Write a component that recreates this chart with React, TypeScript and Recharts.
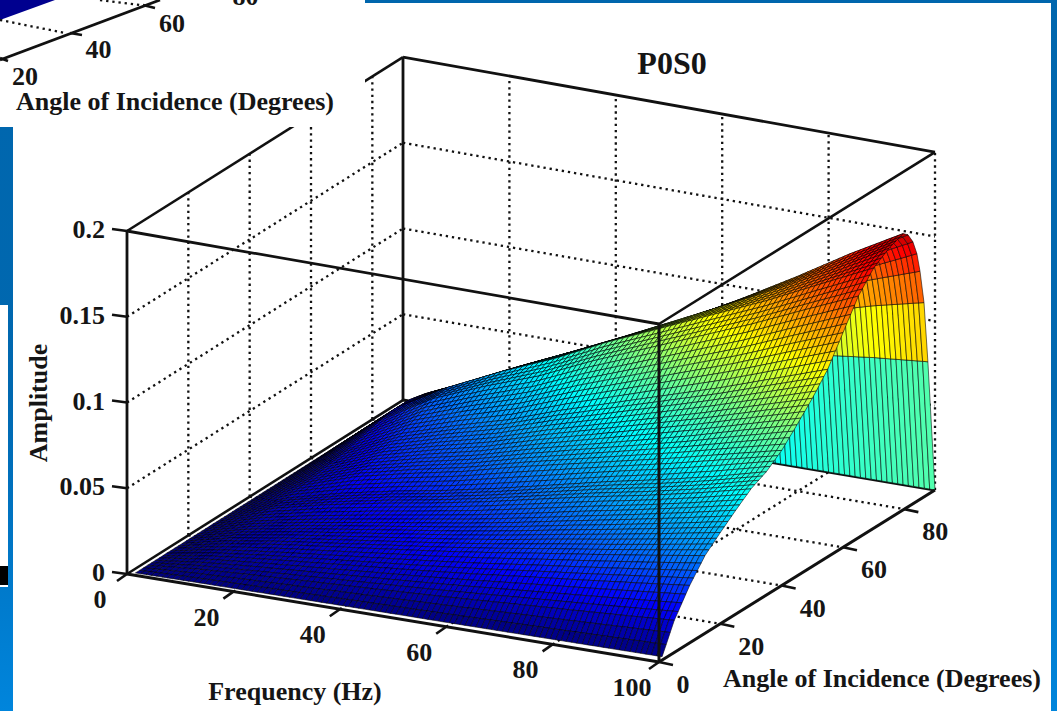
import React from "react";
import { ScatterChart, Scatter, XAxis, YAxis } from "recharts";

const W = 1057;
const H = 711;
const SERIF = "'Liberation Serif', serif";

// ---- data ----
const frequencies = [1, 10, 20, 30, 40, 50, 60, 70, 80, 90, 100];
const angles = [1, 5, 10, 15, 20, 25, 30, 35, 40, 45, 50, 55, 60, 65, 70, 75, 79.6, 81.2, 82.8, 84.1, 85.1, 86.4, 87.7, 90];
const amplitude: number[][] = [
  [0, 0.0003, 0.0005, 0.0007, 0.0009, 0.0011, 0.0012, 0.0014, 0.0016, 0.0018, 0.002],
  [0, 0.0025, 0.0044, 0.006, 0.0076, 0.0092, 0.011, 0.013, 0.0149, 0.0169, 0.019],
  [0, 0.0044, 0.0078, 0.0107, 0.0136, 0.0165, 0.0197, 0.0233, 0.0267, 0.0303, 0.034],
  [0, 0.006, 0.0106, 0.0145, 0.0184, 0.0223, 0.0267, 0.0315, 0.0361, 0.0409, 0.046],
  [0, 0.007, 0.0124, 0.017, 0.0216, 0.0262, 0.0313, 0.037, 0.0424, 0.0481, 0.054],
  [0, 0.008, 0.0141, 0.0194, 0.0246, 0.0298, 0.0357, 0.0421, 0.0483, 0.0547, 0.0615],
  [0, 0.0095, 0.0169, 0.023, 0.0284, 0.0344, 0.0412, 0.0479, 0.054, 0.0608, 0.0685],
  [0, 0.0101, 0.018, 0.0245, 0.0302, 0.0367, 0.0439, 0.0511, 0.0576, 0.0648, 0.073],
  [0, 0.0119, 0.0221, 0.0292, 0.0356, 0.0435, 0.0506, 0.0577, 0.0648, 0.0725, 0.08],
  [0, 0.0132, 0.0246, 0.0326, 0.0396, 0.0484, 0.0563, 0.0642, 0.0722, 0.081, 0.0895],
  [0, 0.0147, 0.0274, 0.0363, 0.0441, 0.0539, 0.0627, 0.0715, 0.0804, 0.09, 0.0995],
  [0, 0.0164, 0.0305, 0.0403, 0.0491, 0.06, 0.0698, 0.0796, 0.0894, 0.1002, 0.111],
  [0, 0.0188, 0.035, 0.0463, 0.0563, 0.0688, 0.08, 0.0913, 0.1025, 0.115, 0.127],
  [0, 0.0212, 0.0395, 0.0522, 0.0635, 0.0776, 0.0902, 0.1029, 0.1156, 0.1295, 0.143],
  [0, 0.0227, 0.0405, 0.055, 0.068, 0.0831, 0.0966, 0.1102, 0.1238, 0.139, 0.154],
  [0, 0.0225, 0.037, 0.052, 0.066, 0.0805, 0.0955, 0.1105, 0.126, 0.1425, 0.16],
  [0, 0.0205, 0.034, 0.049, 0.063, 0.077, 0.092, 0.109, 0.127, 0.146, 0.1635],
  [0, 0.0195, 0.033, 0.047, 0.06, 0.074, 0.089, 0.1075, 0.1255, 0.143, 0.161],
  [0, 0.0185, 0.032, 0.046, 0.058, 0.072, 0.087, 0.1034, 0.122, 0.139, 0.155],
  [0, 0.0175, 0.031, 0.0449, 0.057, 0.0691, 0.0826, 0.0975, 0.117, 0.132, 0.1465],
  [0, 0.0171, 0.0302, 0.0414, 0.0526, 0.0638, 0.0763, 0.0965, 0.111, 0.124, 0.135],
  [0, 0.0146, 0.0259, 0.0354, 0.045, 0.0546, 0.069, 0.085, 0.0985, 0.1075, 0.115],
  [0, 0.0101, 0.0178, 0.0244, 0.031, 0.0376, 0.048, 0.0665, 0.0716, 0.0755, 0.0785],
  [0, 0, 0, 0, 0, 0, 0, 0, 0, 0, 0],
];
const freqTicks = [0, 20, 40, 60, 80, 100];
const angleTicks = [0, 20, 40, 60, 80];
const ampTicks = [0, 0.05, 0.1, 0.15, 0.2];
const ampTickLabels = ["0", "0.05", "0.1", "0.15", "0.2"];
const insetAngleLabels = ["20", "40", "60", "80"];

// ---- view of the 3D box ----
const F_MAX = 100;
const A_MAX = 90;
const Z_MAX = 0.2;
const COLOR_MAX = 0.172;
const proj = (f: number, a: number, z: number) => ({
  x: 127 + 5.32 * f + 3.0667 * a,
  y: 574 + 0.88 * f - 1.933 * a + (f * a * 2) / 9000 - z * (1715 - 0.25 * f),
});

const jet = (v: number) => {
  const t = Math.max(0, Math.min(1, v));
  const ch = (c: number) => Math.round(255 * Math.max(0, Math.min(1, 1.5 - Math.abs(4 * t - c))));
  return `rgb(${ch(3)},${ch(2)},${ch(1)})`;
};

const lerp = (p: number, q: number, t: number) => p + (q - p) * t;

// ---- surface cells, far to near ----
const cells: any[] = [];
for (let i = angles.length - 2; i >= 0; i--) {
  for (let j = 0; j < frequencies.length - 1; j++) {
    const p = proj(frequencies[j], angles[i], amplitude[i][j]);
    cells.push({ x: p.x, y: p.y, i, j });
  }
}

const SurfaceCell = (props: any) => {
  const { cx, cy, payload } = props;
  const { i, j } = payload;
  const a0 = angles[i];
  const a1 = angles[i + 1];
  const f0 = frequencies[j];
  const f1 = frequencies[j + 1];
  const origin = proj(f0, a0, amplitude[i][j]);
  const nf = Math.round(f1 - f0);
  const na = a0 >= 79 ? 1 : Math.max(1, Math.round((a1 - a0) / 1.25));
  const at = (u: number, v: number) => {
    const z = lerp(
      lerp(amplitude[i][j], amplitude[i][j + 1], u),
      lerp(amplitude[i + 1][j], amplitude[i + 1][j + 1], u),
      v,
    );
    const p = proj(lerp(f0, f1, u), lerp(a0, a1, v), z);
    return { px: cx + p.x - origin.x, py: cy + p.y - origin.y, z };
  };
  const polys = [];
  for (let s = na - 1; s >= 0; s--) {
    for (let t = 0; t < nf; t++) {
      const c = [at(t / nf, s / na), at((t + 1) / nf, s / na), at((t + 1) / nf, (s + 1) / na), at(t / nf, (s + 1) / na)];
      polys.push(
        <polygon
          key={`${s}-${t}`}
          points={c.map((q) => `${q.px.toFixed(1)},${q.py.toFixed(1)}`).join(" ")}
          fill={jet(c[0].z / COLOR_MAX)}
          stroke="#000"
          strokeOpacity={0.62}
          strokeWidth={0.9}
        />,
      );
    }
  }
  return <g>{polys}</g>;
};

// ---- helpers for the series ----
const Nothing = () => null;
const seg = (p: any, q: any, width: number, dash?: string, key?: string) => (
  <Scatter
    key={key}
    data={[p, q]}
    dataKey="y"
    isAnimationActive={false}
    shape={Nothing as any}
    line={{ stroke: "#111", strokeWidth: width, strokeDasharray: dash }}
  />
);

const RectShape = (props: any) => {
  const { cx, cy, payload } = props;
  return <rect x={cx} y={cy} width={payload.w} height={payload.h} fill={payload.fill} />;
};
const LabelShape = (props: any) => {
  const { cx, cy, payload } = props;
  return (
    <text
      x={cx}
      y={cy}
      textAnchor={payload.anchor || "middle"}
      fontFamily={SERIF}
      fontWeight="bold"
      fontSize={payload.size || 26}
      fill="#151515"
      transform={payload.rotate ? `rotate(${payload.rotate} ${cx} ${cy})` : undefined}
    >
      {payload.text}
    </text>
  );
};
const TriangleShape = (props: any) => (
  <polygon points={`${props.cx},${props.cy} ${props.cx + 55},${props.cy} ${props.cx},${props.cy + 20}`} fill="#00008f" />
);

const DOT = "2.3 3.9";
const DW = 2.3;
const Z_GRID = ampTicks.slice(1, -1);

const backdrop = [
  { x: 13, y: 3, w: 1038, h: 708, fill: "#fff" },
  { x: 0, y: 305, w: 8, h: 261, fill: "#fff" },
  { x: 0, y: 566, w: 8, h: 19, fill: "#000" },
  { x: 0, y: 585, w: 8, h: 2, fill: "#fff" },
];
const insetBox = [{ x: 0, y: 0, w: 365, h: 127, fill: "#fff" }];

const lines: React.ReactNode[] = [];
// back wall and left wall grid
Z_GRID.forEach((z) => {
  lines.push(seg(proj(0, 0, z), proj(0, A_MAX, z), DW, DOT, `lw${z}`));
  lines.push(seg(proj(0, A_MAX, z), proj(F_MAX, A_MAX, z), DW, DOT, `bw${z}`));
});
freqTicks.slice(1, -1).forEach((f) => {
  lines.push(seg(proj(f, A_MAX, 0), proj(f, A_MAX, Z_MAX), DW, DOT, `bv${f}`));
  lines.push(seg(proj(f, 0, 0), proj(f, A_MAX, 0), DW, DOT, `ff${f}`));
});
angleTicks.slice(1).forEach((a) => {
  lines.push(seg(proj(0, a, 0), proj(0, a, Z_MAX), DW, DOT, `lv${a}`));
  lines.push(seg(proj(0, a, 0), proj(F_MAX, a, 0), DW, DOT, `fa${a}`));
});
lines.push(seg(proj(F_MAX, A_MAX, 0), proj(F_MAX, A_MAX, Z_MAX), DW, DOT, "bvr"));
// rear solid edges
lines.push(seg(proj(0, A_MAX, 0), proj(0, A_MAX, Z_MAX), 2.8, undefined, "rear"));
lines.push(seg(proj(0, 0, 0), proj(0, A_MAX, 0), 2.6, undefined, "floorLeft"));
lines.push(seg(proj(0, 0, Z_MAX), proj(0, A_MAX, Z_MAX), 2.6, undefined, "topLeft"));
lines.push(seg(proj(0, A_MAX, Z_MAX), proj(F_MAX, A_MAX, Z_MAX), 2.8, undefined, "topBack"));
lines.push(seg(proj(0, A_MAX, 0), proj(F_MAX, A_MAX, 0), 3, undefined, "backFloor"));

const frontLines: React.ReactNode[] = [
  seg(proj(0, 0, 0), proj(0, 0, Z_MAX), 2.8, undefined, "v0"),
  seg(proj(0, 0, Z_MAX), proj(F_MAX, 0, Z_MAX), 2.8, undefined, "t0"),
  seg(proj(F_MAX, 0, 0), proj(F_MAX, 0, Z_MAX), 3, undefined, "v1"),
  seg(proj(F_MAX, 0, Z_MAX), proj(F_MAX, A_MAX, Z_MAX), 2.6, undefined, "t1"),
  seg(proj(0, 0, 0), proj(F_MAX, 0, 0), 3, undefined, "b0"),
  seg(proj(F_MAX, 0, 0), proj(F_MAX, A_MAX, 0), 3, undefined, "b1"),
];
// ticks
ampTicks.forEach((z) => {
  const p = proj(0, 0, z);
  frontLines.push(seg({ x: p.x - 15, y: p.y - 2 }, p, 2.6, undefined, `tz${z}`));
});
freqTicks.forEach((f) => {
  const p = proj(f, 0, 0);
  frontLines.push(seg({ x: p.x - 10, y: p.y + 7 }, p, 2.6, undefined, `tf${f}`));
});
angleTicks.forEach((a) => {
  const p = proj(F_MAX, a, 0);
  frontLines.push(seg(p, { x: p.x + 14, y: p.y + 3 }, 2.6, undefined, `ta${a}`));
});

const labels: any[] = [
  { x: 672, y: 74, text: "P0S0", size: 32 },
  { x: 295, y: 700, text: "Frequency (Hz)" },
  { x: 882, y: 687, text: "Angle of Incidence (Degrees)" },
  { x: 47, y: 403, text: "Amplitude", rotate: -90 },
];
ampTicks.forEach((z, k) => {
  const p = proj(0, 0, z);
  labels.push({ x: 105, y: p.y + 7, text: ampTickLabels[k], anchor: "end" });
});
freqTicks.forEach((f) => {
  const p = proj(f, 0, 0);
  labels.push({ x: p.x - 27, y: p.y + 34, text: String(f) });
});
angleTicks.forEach((a) => {
  const p = proj(F_MAX, a, 0);
  labels.push({ x: p.x + (a === 0 ? 24 : 31), y: p.y + 31, text: String(a) });
});

// inset crop at the top left
const insetLabels: any[] = [
  { x: 175, y: 110, text: "Angle of Incidence (Degrees)" },
  ...insetAngleLabels.map((text, k) => ({ x: 25 + 73.5 * k, y: 85 - 26.7 * k, text })),
];

export default function App() {
  return (
    <div
      style={{
        position: "fixed",
        left: 0,
        top: 0,
        width: W,
        height: H,
        background: "linear-gradient(180deg,#0066ad 0%,#0068b0 55%,#0085dc 100%)",
      }}
    >
      <ScatterChart width={W} height={H} margin={{ top: 0, right: 0, bottom: 0, left: 0 }}>
        <XAxis type="number" dataKey="x" domain={[0, W]} hide />
        <YAxis type="number" dataKey="y" domain={[0, H]} reversed hide />
        <Scatter data={backdrop} dataKey="y" shape={RectShape as any} isAnimationActive={false} />
        {lines}
        <Scatter data={cells} dataKey="y" shape={SurfaceCell as any} isAnimationActive={false} />
        {frontLines}
        <Scatter data={labels} dataKey="y" shape={LabelShape as any} isAnimationActive={false} />
        <Scatter data={insetBox} dataKey="y" shape={RectShape as any} isAnimationActive={false} />
        <Scatter data={[{ x: 0, y: 0 }]} dataKey="y" shape={TriangleShape as any} isAnimationActive={false} />
        {seg({ x: 0, y: 60 }, { x: 160, y: 0 }, 2.8, undefined, "insetAxis")}
        {seg({ x: 0, y: 20 }, { x: 65, y: 33 }, DW, DOT, "insetDot1")}
        {seg({ x: 100, y: 0 }, { x: 140, y: 5 }, DW, DOT, "insetDot2")}
        {seg({ x: 70, y: 33 }, { x: 82, y: 35 }, 2.6, undefined, "insetTick1")}
        {seg({ x: 143, y: 5 }, { x: 155, y: 8 }, 2.6, undefined, "insetTick2")}
        {seg({ x: 0, y: 58 }, { x: 8, y: 61 }, 2.6, undefined, "insetTick0")}
        <Scatter data={insetLabels} dataKey="y" shape={LabelShape as any} isAnimationActive={false} />
      </ScatterChart>
    </div>
  );
}
